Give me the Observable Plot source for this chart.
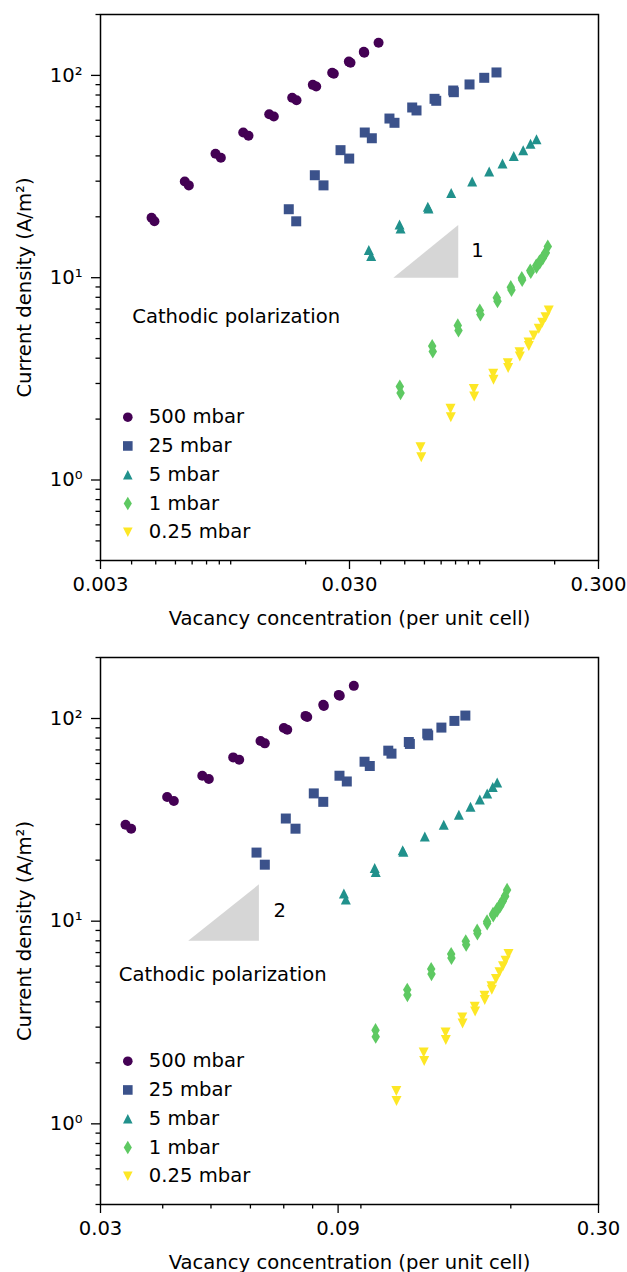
<!DOCTYPE html>
<html><head><meta charset="utf-8">
<script src="https://cdn.jsdelivr.net/npm/d3@7"></script>
<script src="https://cdn.jsdelivr.net/npm/@observablehq/plot@0.6"></script>
<style>
html,body{margin:0;padding:0;background:#fff;}
#chart svg{display:block;}
</style></head><body><div id="chart"></div>
<script>
// ---- categories ----
const pressures = ["500 mbar", "25 mbar", "5 mbar", "1 mbar", "0.25 mbar"];
const colors = ["#440154", "#3b528b", "#21918c", "#5ec962", "#fde725"];

// ---- current density (A/m²), shared by both panels ----
const y500 = [19.8,19.0, 29.9,28.6, 41.0,39.2, 52.2,50.3, 64.3,62.6, 77.5,75.4, 89.8,88.1, 103.0,101.8, 117.0,115.4, 130.8,129.5, 144.9];
const y25 = [21.8,19.0, 32.1,28.6, 42.7,38.8, 52.2,48.9, 61.2,58.3, 69.4,67.1, 76.6,74.9, 84.2,82.6, 90.2, 97.3, 103.4];
const y5 = [13.7,12.8, 18.3,17.5, 22.4,22.0, 26.2, 29.9, 33.5, 36.7, 39.9, 42.7, 45.9, 48.4];
const y1 = [2.90,2.69, 4.59,4.32, 5.81,5.48, 6.88,6.58, 7.96,7.65, 8.98,8.70, 9.97,9.74, 10.86,10.67, 11.49,11.29, 12.03,11.89, 12.59,12.5, 13.32,13.25, 14.27];
const y025 = [1.453,1.296, 2.25,2.045, 2.82,2.59, 3.35,3.13, 3.78,3.58, 4.28,4.08, 4.78,4.59, 5.18, 5.59, 5.99, 6.38, 6.88];

// ---- vacancy concentration, top panel ----
const xTop500 = [0.00481,0.00494, 0.00654,0.00679, 0.00869,0.00913, 0.01123,0.01179, 0.01428,0.0149, 0.01766,0.01838, 0.02137,0.02205, 0.02556,0.02595, 0.02982,0.03028, 0.03424,0.0344, 0.03925];
const xTop25 = [0.01711,0.01833, 0.02177,0.02359, 0.02761,0.02992, 0.03455,0.03688, 0.04341,0.04548, 0.05357,0.05575, 0.06586,0.06691, 0.0783,0.07873, 0.09102, 0.1043, 0.1168];
const xTop5 = [0.03586,0.03666, 0.04765,0.0481, 0.06189,0.06229, 0.07683, 0.0933, 0.1092, 0.1235, 0.137, 0.1495, 0.16, 0.1691];
const xTop1 = [0.04777,0.0481, 0.06445,0.0648, 0.08166,0.0822, 0.1001,0.1007, 0.1171,0.1179, 0.1333,0.1342, 0.1476,0.1481, 0.1596,0.1604, 0.1687,0.1691, 0.1738,0.1743, 0.1788,0.1793, 0.1838,0.1843, 0.1877];
const xTop025 = [0.05785,0.05824, 0.07635,0.07657, 0.09469,0.09504, 0.1133,0.1136, 0.1297,0.1301, 0.1445,0.1449, 0.1571,0.1575, 0.1649, 0.1727, 0.1783, 0.1838, 0.1894];

// ---- vacancy concentration, bottom panel (null = not visible) ----
const xBot500 = [null,null, 0.03368,0.03457, 0.04083,0.04211, 0.04803,0.0495, 0.05541,0.05697, 0.06287,0.06413, 0.07003,0.07114, 0.07741,0.07803, 0.08403,0.08426, 0.09027,0.0907, 0.09679];
const xBot25 = [0.06172,0.06413, 0.07067,0.07391, 0.08043,0.08403, 0.09057,0.09369, 0.1017,0.1042, 0.1135,0.1152, 0.1248,0.1254, 0.1359,0.1365, 0.1451, 0.1541, 0.1621];
const xBot5 = [0.09243,0.09327, 0.1066,0.1071, 0.1213,0.1217, 0.1344, 0.1467, 0.1573, 0.166, 0.1733, 0.1793, 0.184, 0.1878];
const xBot1 = [0.107,0.1071, 0.1239,0.124, 0.1384,0.1386, 0.1518,0.152, 0.1624,0.1627, 0.1712,0.1714, 0.1792,0.1793, 0.1842,0.1844, 0.1877,0.1878, 0.1903,0.1905, 0.1925,0.1926, 0.1947,0.1948, 0.1966];
const xBot025 = [0.1178,0.1179, 0.1337,0.134, 0.1479,0.1481, 0.1598,0.16, 0.1693,0.1696, 0.1771,0.1773, 0.1829,0.1832, 0.1867, 0.1898, 0.1929, 0.1952, 0.1979];

// ---- ticks ----
const xTicksTop = [0.003, 0.03, 0.3];
const xTickLabelsTop = ["0.003", "0.030", "0.300"];
const xTicksBottom = [0.03, 0.09, 0.3];
const xTickLabelsBottom = ["0.03", "0.09", "0.30"];
const yTicks = [1, 10, 100];
const yTickLabels = ["10\u2070", "10\u00b9", "10\u00b2"];

// ---- slope annotations ----
const slopeTopX = [0.045, 0.082, 0.082];
const slopeTopY = [10, 10, 18.2];
const slopeTopLabel = {x: 0.098, y: 13.6, text: "1"};
const slopeBotX = [0.045, 0.0624, 0.0624];
const slopeBotY = [8, 8, 15.2];
const slopeBotLabel = {x: 0.0687, y: 11.3, text: "2"};

const annotation = "Cathodic polarization";
const xLabel = "Vacancy concentration (per unit cell)";
const yLabel = "Current density (A/m\u00b2)";

// ---- matplotlib-like marker shapes ----
const mk = fn => ({draw(ctx, size) { const r = Math.sqrt(size / Math.PI); fn(ctx, r); }});
const symbols = [
  mk((c, r) => { c.moveTo(r, 0); c.arc(0, 0, r, 0, 2 * Math.PI); }),
  mk((c, r) => { c.moveTo(-r, -r); c.lineTo(r, -r); c.lineTo(r, r); c.lineTo(-r, r); c.closePath(); }),
  mk((c, r) => { c.moveTo(0, -r); c.lineTo(r, r); c.lineTo(-r, r); c.closePath(); }),
  mk((c, r) => { c.moveTo(0, -1.414 * r); c.lineTo(0.849 * r, 0); c.lineTo(0, 1.414 * r); c.lineTo(-0.849 * r, 0); c.closePath(); }),
  mk((c, r) => { c.moveTo(0, r); c.lineTo(-r, -r); c.lineTo(r, -r); c.closePath(); })
];

const ySeries = [y500, y25, y5, y1, y025];
const FS = 19.6;

function minorTicks(lo, hi, majors) {
  const out = [];
  for (let k = -4; k <= 3; k++) for (let m = 1; m <= 9; m++) {
    const v = m * Math.pow(10, k);
    if (v >= lo * 0.9999 && v <= hi * 1.0001 && !majors.some(t => Math.abs(t - v) / t < 1e-6)) out.push(v);
  }
  return out;
}

function panel({xDomain, xMajor, xLabels, xs, marginTop, marginBottom, slopeX, slopeY, slopeLabel, annDx, annDy}) {
  const yDomain = [0.4, 200];
  const rows = [];
  ySeries.forEach((ys, i) => ys.forEach((yv, j) => {
    const xv = xs[i][j];
    if (xv != null) rows.push({i, x: xv, y: yv});
  }));
  const tri = slopeX.map((x, k) => ({x, y: slopeY[k]}));
  const marks = [
    Plot.line(tri, {x: "x", y: "y", fill: "#d6d6d6", stroke: "none"}),
    Plot.text([slopeLabel], {x: "x", y: "y", text: "text", fontSize: FS, lineAnchor: "middle"}),
    Plot.text([annotation], {text: d => d, frameAnchor: "top-left", dx: annDx, dy: annDy, textAnchor: "start", lineAnchor: "middle", fontSize: FS})
  ];
  pressures.forEach((p, i) => {
    marks.push(Plot.dot(rows.filter(d => d.i === i), {x: "x", y: "y", fill: colors[i], symbol: symbols[i], r: 5}));
  });
  pressures.forEach((p, i) => {
    const dy = -(143.3 - i * 28.75);
    marks.push(Plot.dot([p], {frameAnchor: "bottom-left", dx: 27.3, dy, fill: colors[i], symbol: symbols[i], r: 4.8}));
    marks.push(Plot.text([p], {text: d => d, frameAnchor: "bottom-left", dx: 48.3, dy, textAnchor: "start", lineAnchor: "middle", fontSize: FS}));
  });
  marks.push(
    Plot.axisX({ticks: minorTicks(xDomain[0], xDomain[1], xMajor), tickFormat: () => "", tickSize: 4.5, strokeWidth: 1.3, label: null}),
    Plot.axisX({ticks: xMajor, tickFormat: d => xLabels[xMajor.indexOf(d)], tickSize: 9, tickPadding: 8, strokeWidth: 1.3, label: null}),
    Plot.axisY({ticks: minorTicks(yDomain[0], yDomain[1], yTicks), tickFormat: () => "", tickSize: 4.5, strokeWidth: 1.3, label: null}),
    Plot.axisY({ticks: yTicks, tickFormat: d => yTickLabels[yTicks.indexOf(d)], tickSize: 9, tickPadding: 9, strokeWidth: 1.3, label: null}),
    Plot.text([xLabel], {text: d => d, frameAnchor: "bottom", dy: 58, lineAnchor: "middle", fontSize: FS}),
    Plot.text([yLabel], {text: d => d, frameAnchor: "left", dx: -76, rotate: -90, textAnchor: "middle", lineAnchor: "middle", fontSize: FS}),
    Plot.frame({stroke: "black", strokeWidth: 1.5})
  );
  return Plot.plot({
    width: 627, height: 636,
    marginLeft: 100, marginRight: 29, marginTop, marginBottom,
    x: {type: "log", domain: xDomain},
    y: {type: "log", domain: yDomain},
    style: {fontFamily: "'DejaVu Sans', sans-serif", fontSize: FS + "px", color: "black", background: "white", overflow: "visible"},
    marks
  });
}

const chart = document.getElementById("chart");
chart.appendChild(panel({
  xDomain: [0.003, 0.3], xMajor: xTicksTop, xLabels: xTickLabelsTop,
  xs: [xTop500, xTop25, xTop5, xTop1, xTop025],
  marginTop: 14, marginBottom: 76,
  slopeX: slopeTopX, slopeY: slopeTopY, slopeLabel: slopeTopLabel,
  annDx: 31.7, annDy: 302
}));
chart.appendChild(panel({
  xDomain: [0.03, 0.3], xMajor: xTicksBottom, xLabels: xTickLabelsBottom,
  xs: [xBot500, xBot25, xBot5, xBot1, xBot025],
  marginTop: 21, marginBottom: 68,
  slopeX: slopeBotX, slopeY: slopeBotY, slopeLabel: slopeBotLabel,
  annDx: 18.3, annDy: 317.7
}));
</script></body></html>
